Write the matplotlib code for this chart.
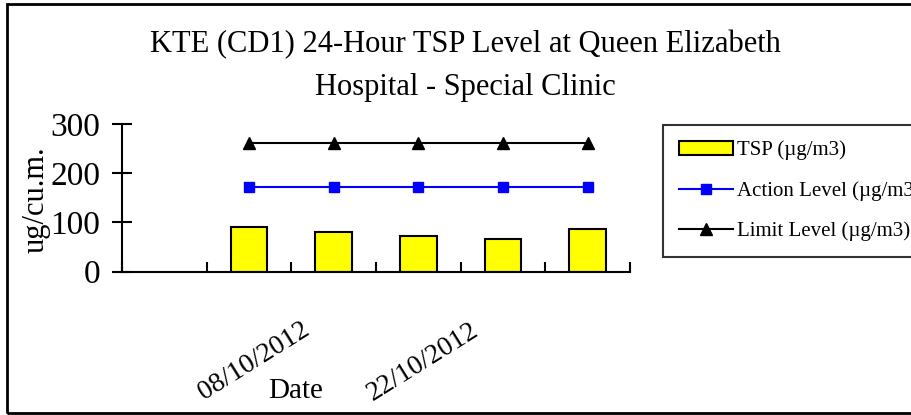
import matplotlib
matplotlib.use("Agg")
import matplotlib.pyplot as plt
import matplotlib.transforms as mtransforms
from matplotlib.patches import Rectangle, Patch
from matplotlib.lines import Line2D
import numpy as np

# ----------------------------------------------------------------------------------------------------------------------
# Data (first category is empty)
dates = ['', '01/10/2012', '08/10/2012', '15/10/2012', '22/10/2012', '29/10/2012']
tsp = [np.nan, 90, 81, 73, 66, 86]
action_level = [np.nan, 173, 173, 173, 173, 173]
limit_level = [np.nan, 261, 261, 261, 261, 261]
y_ticks = [0, 100, 200, 300]

title = 'KTE (CD1) 24-Hour TSP Level at Queen Elizabeth\nHospital - Special Clinic'
legend_labels = ['TSP (\u00b5g/m3)', 'Action Level (\u00b5g/m3)', 'Limit Level (\u00b5g/m3)']
# ----------------------------------------------------------------------------------------------------------------------

plt.rcParams['font.family'] = ['Liberation Serif', 'DejaVu Serif']

fig = plt.figure(figsize=(9.11, 4.15), dpi=100)
ax = fig.add_axes([122 / 911, 1 - 271.7 / 415, 508 / 911, 147.7 / 415])

x = np.arange(len(dates))
ax.bar(x, tsp, width=0.43, color='#ffff00', edgecolor='black', linewidth=1.5, zorder=2)
ax.plot(x, action_level, color='#0000ff', linewidth=1.5, marker='s', markersize=7, zorder=3)
ax.plot(x, limit_level, color='black', linewidth=1.5, marker='^', markersize=8, zorder=3)

ax.set_xlim(-0.5, len(dates) - 0.5)
ax.set_ylim(0, 300)
ax.set_yticks(y_ticks)
ax.tick_params(axis='y', direction='inout', length=15, width=1.5, labelsize=24, pad=8)

# category boundaries carry the tick marks, centres carry the labels
ax.set_xticks(np.arange(len(dates) + 1) - 0.5)
ax.set_xticklabels([])
ax.tick_params(axis='x', which='major', direction='in', length=7, width=1.5)
ax.set_xticks(x, minor=True)
ax.set_xticklabels([d if i % 2 == 0 else '' for i, d in enumerate(dates)], minor=True,
                   rotation=32, ha='right', fontsize=20)
ax.tick_params(axis='x', which='minor', length=0, pad=33)
shift = mtransforms.ScaledTranslation(-20 / 100, 0, fig.dpi_scale_trans)
for lab in ax.get_xticklabels(minor=True):
    lab.set_transform(lab.get_transform() + shift)

for side in ['top', 'right']:
    ax.spines[side].set_visible(False)
for side in ['left', 'bottom']:
    ax.spines[side].set_linewidth(1.5)

ax.set_xlabel('Date', fontsize=21)
ax.xaxis.set_label_coords((296 - 122) / 508, -0.72)
ax.set_ylabel('ug/cu.m.', fontsize=22)
ax.yaxis.set_label_coords((51 - 122) / 508, 0.485)

fig.text(465 / 911, 1 - 66 / 415, title, ha='center', va='center', fontsize=22, linespacing=1.6)

handles = [Patch(facecolor='#ffff00', edgecolor='black', linewidth=1.5),
           Line2D([], [], color='#0000ff', linewidth=1.5, marker='s', markersize=7),
           Line2D([], [], color='black', linewidth=1.5, marker='^', markersize=8)]
leg = fig.legend(handles, legend_labels, loc='upper left', bbox_to_anchor=(663 / 911, 1 - 125 / 415),
                 fontsize=15, frameon=True, fancybox=False, borderpad=0.75, labelspacing=1.0,
                 handlelength=2.6, handletextpad=0.2, borderaxespad=0)
leg.get_frame().set_edgecolor('black')
leg.get_frame().set_linewidth(1.5)

# chart border
fig.patches.append(Rectangle((7 / 911, 2 / 415), 1.0, 1 - 6 / 415, transform=fig.transFigure,
                             fill=False, edgecolor='black', linewidth=2))

fig.savefig('out.png', dpi=100)
